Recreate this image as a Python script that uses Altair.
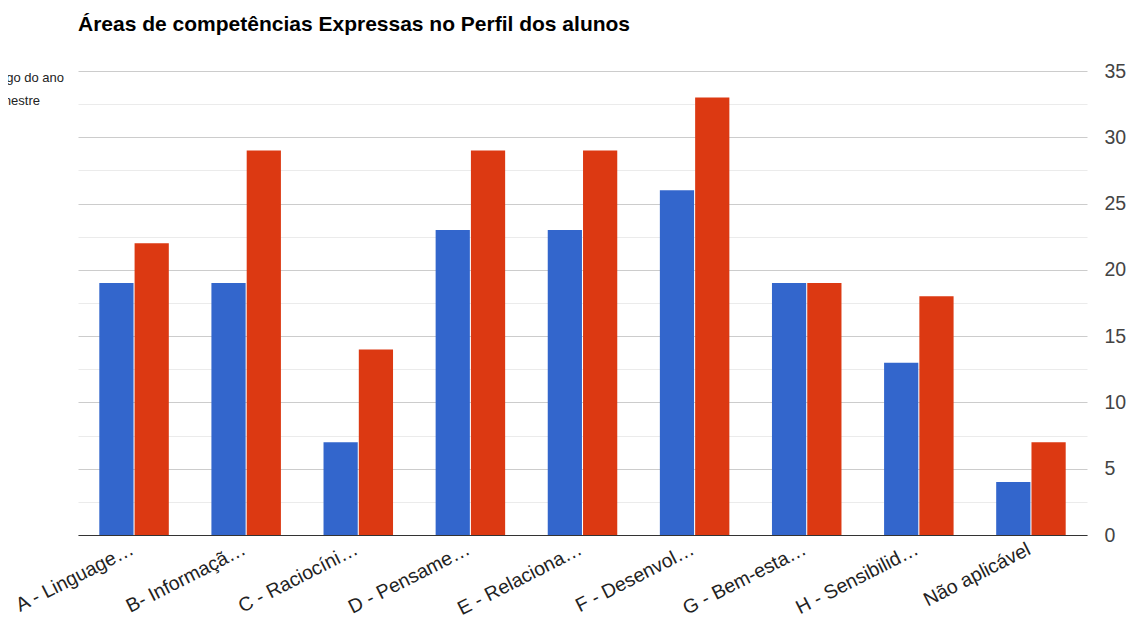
import altair as alt
import pandas as pd

title_text = "Áreas de competências Expressas no Perfil dos alunos"
categories = ["A - Linguage…", "B- Informaçã…", "C - Raciocíni…", "D - Pensame…",
              "E - Relaciona…", "F - Desenvol…", "G - Bem-esta…", "H - Sensibilid…",
              "Não aplicável"]
series_names = ["Ao longo do ano", "1º semestre"]
series_a = [19, 19, 7, 23, 23, 26, 19, 13, 4]
series_b = [22, 29, 14, 29, 29, 33, 19, 18, 7]
colors = ["#3366cc", "#dc3912"]
y_ticks = [0, 2.5, 5, 7.5, 10, 12.5, 15, 17.5, 20, 22.5, 25, 27.5, 30, 32.5, 35]

rows = []
for c, a, b in zip(categories, series_a, series_b):
    rows.append({"cat": c, "serie": series_names[0], "v": a})
    rows.append({"cat": c, "serie": series_names[1], "v": b})
df = pd.DataFrame(rows)

bars = alt.Chart(df).mark_bar().encode(
    x=alt.X("cat:N", sort=categories, title=None,
            scale=alt.Scale(paddingInner=0.38, paddingOuter=0.19),
            axis=alt.Axis(labelAngle=-27, labelAlign="right", labelBaseline="alphabetic",
                          labelFontSize=19.5, labelColor="#222", labelFont="Liberation Sans",
                          labelOffset=1, labelPadding=18, ticks=False,
                          domainColor="#333", domainWidth=1, labelLimit=300)),
    xOffset=alt.XOffset("serie:N", sort=series_names,
                        scale=alt.Scale(paddingInner=0.03)),
    y=alt.Y("v:Q", title=None,
            scale=alt.Scale(domain=[0, 35], nice=False),
            axis=alt.Axis(orient="right", values=y_ticks, domain=False, ticks=False,
                          labelFontSize=19.5, labelColor="#444", labelFont="Liberation Sans",
                          labelPadding=17,
                          labelExpr="datum.value % 5 === 0 ? datum.label : ''",
                          gridColor={"condition": {"test": "datum.value % 5 === 0", "value": "#cccccc"},
                                     "value": "#ebebeb"})),
    color=alt.Color("serie:N", sort=series_names,
                    scale=alt.Scale(domain=series_names, range=colors), legend=None),
)

title = alt.Chart(pd.DataFrame({"t": [title_text]})).mark_text(
    align="left", baseline="alphabetic", fontSize=21, fontWeight="bold",
    font="Liberation Sans", color="#000"
).encode(x=alt.value(0), y=alt.value(-40), text="t:N")

leg1 = alt.Chart(pd.DataFrame({"t": [series_names[0]]})).mark_text(
    align="right", baseline="alphabetic", fontSize=13, font="Liberation Sans", color="#222"
).encode(x=alt.value(-14), y=alt.value(11), text="t:N")

leg2 = alt.Chart(pd.DataFrame({"t": [series_names[1]]})).mark_text(
    align="right", baseline="alphabetic", fontSize=13, font="Liberation Sans", color="#222"
).encode(x=alt.value(-38), y=alt.value(34), text="t:N")

chart = alt.layer(bars, title, leg1, leg2).properties(
    width=1009, height=464,
    autosize=alt.AutoSizeParams(type="none"),
    padding={"left": 70, "top": 63, "right": 39, "bottom": 84},
).configure_view(stroke=None)

chart.save("out.html", embed_options={"renderer": "svg", "actions": False})
